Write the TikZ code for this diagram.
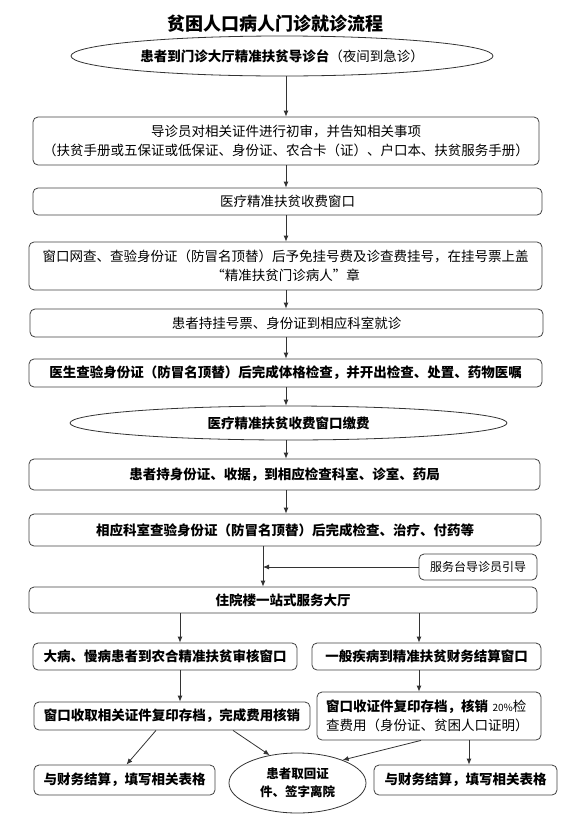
\documentclass[tikz,border=0pt]{standalone}
\usepackage{fontspec}
\setmainfont{Noto Sans CJK SC}
\usetikzlibrary{arrows.meta,shapes.geometric}

\begin{document}
\begin{tikzpicture}[x=1pt, y=-1pt,
  box/.style={draw=black!75, line width=0.8pt, rounded corners=5pt, inner sep=0pt, align=center, font=\fontsize{13.5}{19.5}\selectfont},
  bbox/.style={box, font=\fontsize{13.5}{19.5}\selectfont\bfseries},
  oval/.style={draw=black!80, line width=0.8pt, ellipse, inner sep=0pt, align=center, font=\fontsize{13.5}{19.5}\selectfont},
  arr/.style={draw=black!80, line width=0.8pt, -{Latex[length=6pt,width=5pt]}}]
  \useasboundingbox (0,0) rectangle (571,836);

  % Title
  \node[font=\fontsize{18}{20}\selectfont\bfseries] (title) at (275,24) {贫困人口病人门诊就诊流程};

  % Outpatient steps
  \node[oval, minimum width=422pt, minimum height=40pt] (e1) at (282,56) {\textbf{患者到门诊大厅精准扶贫导诊台}（夜间到急诊）};
  \node[box, minimum width=506pt, minimum height=48pt] (b2) at (286,141) {导诊员对相关证件进行初审，并告知相关事项\\（扶贫手册或五保证或低保证、身份证、农合卡（证）、户口本、扶贫服务手册）};
  \node[box, minimum width=509pt, minimum height=27pt] (b3) at (287.5,201.5) {医疗精准扶贫收费窗口};
  \node[box, minimum width=513pt, minimum height=48pt] (b4) at (285.5,266) {窗口网查、查验身份证（防冒名顶替）后予免挂号费及诊查费挂号，在挂号票上盖\\“精准扶贫门诊病人”章};
  \node[box, minimum width=513pt, minimum height=28pt] (b5) at (286.5,323) {患者持挂号票、身份证到相应科室就诊};
  \node[bbox, minimum width=513pt, minimum height=28pt] (b6) at (285.5,373) {医生查验身份证（防冒名顶替）后完成体格检查，并开出检查、处置、药物医嘱};
  \node[oval, minimum width=437pt, minimum height=34pt, font=\fontsize{13.5}{19.5}\selectfont\bfseries] (e2) at (288.5,423) {医疗精准扶贫收费窗口缴费};
  \node[bbox, minimum width=511pt, minimum height=31pt] (b7) at (284.5,474.5) {患者持身份证、收据，到相应检查科室、诊室、药局};
  \node[bbox, minimum width=512pt, minimum height=32pt] (b8) at (285,530) {相应科室查验身份证（防冒名顶替）后完成检查、治疗、付药等};
  \node[box, minimum width=118pt, minimum height=26pt, font=\fontsize{12}{14}\selectfont] (guide) at (478,567) {服务台导诊员引导};
  \node[bbox, minimum width=508pt, minimum height=26pt] (b9) at (283,600) {住院楼一站式服务大厅};

  % Two windows
  \node[bbox, minimum width=264pt, minimum height=27pt] (l1) at (165,656.5) {大病、慢病患者到农合精准扶贫审核窗口};
  \node[bbox, minimum width=229pt, minimum height=27pt] (r1) at (426.5,656.5) {一般疾病到精准扶贫财务结算窗口};
  \node[bbox, minimum width=276pt, minimum height=28pt] (l2) at (172,716) {窗口收取相关证件复印存档，完成费用核销};
  \node[box, minimum width=224pt, minimum height=48pt, align=left, text width=206pt] (r2) at (429,716) {\textbf{窗口收证件复印存档，核销} {\fontsize{10}{12}\selectfont 20\%}检\\查费用（身份证、贫困人口证明）};

  % Discharge
  \node[bbox, minimum width=181pt, minimum height=30pt] (bl) at (124.5,780) {与财务结算，填写相关表格};
  \node[oval, minimum width=137pt, minimum height=60pt, font=\fontsize{12.5}{18}\selectfont\bfseries] (e3) at (297.5,783) {患者取回证\\件、签字离院};
  \node[bbox, minimum width=183pt, minimum height=30pt] (br) at (465.5,780) {与财务结算，填写相关表格};

  % Arrows
  \coordinate (ax) at (286,0);
  \coordinate (ax2) at (263,0);
  \coordinate (lx) at (180,0);
  \coordinate (rx) at (419,0);
  \foreach \a/\b in {e1/b2,b2/b3,b3/b4,b4/b5,b5/b6,b6/e2,e2/b7,b7/b8}
    \draw[arr] (\a.south -| ax) -- (\b.north -| ax);
  \draw[arr] (b8.south -| ax2) -- (b9.north -| ax2);
  \draw[arr] (guide.west) -- (guide.west -| ax2);
  \draw[arr] (b9.south -| lx) -- (l1.north -| lx);
  \draw[arr] (b9.south -| rx) -- (r1.north -| rx);
  \draw[arr] (l1.south -| lx) -- (l2.north -| lx);
  \draw[arr] (r1.south -| rx) -- (r2.north -| rx);
  \draw[arr] ([xshift=-16pt]l2.south) -- ([xshift=2pt]bl.north);
  \draw[arr] ([xshift=61pt]l2.south) -- (e3.135);
  \draw[arr] ([xshift=-8pt]r2.south) -- (e3.27);
  \draw[arr] ([xshift=40pt]r2.south) -- ([xshift=3.5pt]br.north);
\end{tikzpicture}
\end{document}
